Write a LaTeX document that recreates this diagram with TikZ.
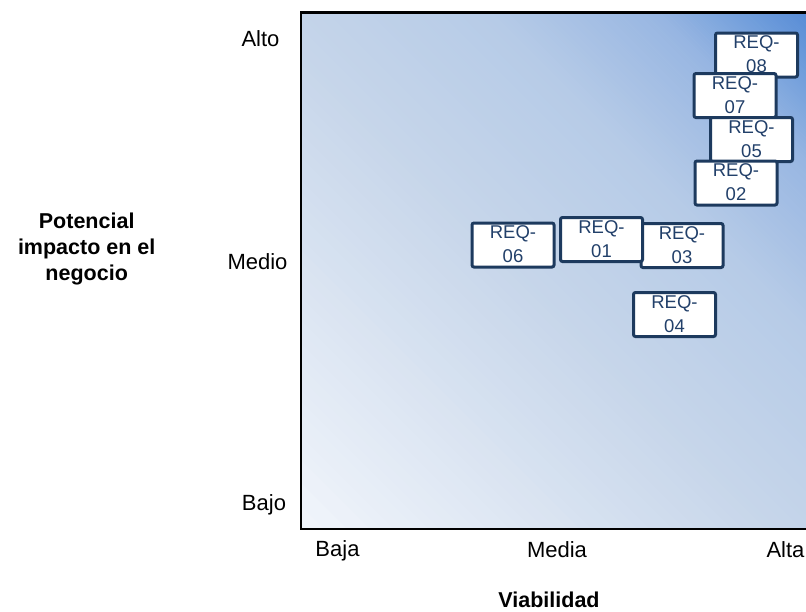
\documentclass[tikz,border=0pt]{standalone}
\usepackage{fontspec}
\setmainfont{Liberation Sans}
\usetikzlibrary{calc}

% diagonal background ramp, light at lower left, strong blue at upper right
\definecolor{g0}{HTML}{F1F5FB}
\definecolor{g1}{HTML}{C7D6EA}
\definecolor{g2}{HTML}{B6CBE7}
\definecolor{g3}{HTML}{98B6E2}
\definecolor{g4}{HTML}{6F9DDB}
\definecolor{g5}{HTML}{5288D5}
\definecolor{reqline}{HTML}{1D3A5E}
\definecolor{reqtext}{HTML}{22406A}

\tikzset{
  reqbox/.style={draw=reqline, fill=white, line width=3pt, rounded corners=2pt,
    minimum width=82pt, minimum height=44pt, inner sep=0pt},
  reqlabel/.style={anchor=north, inner sep=0pt, text=reqtext, align=center,
    font=\fontsize{18.5}{24}\selectfont},
  axislabel/.style={anchor=base, inner sep=0pt, font=\fontsize{22}{26}\selectfont},
  axistitle/.style={inner sep=0pt, align=center, font=\bfseries\fontsize{21.5}{26}\selectfont},
  frameline/.style={line width=2.8pt, draw=black},
}

\begin{document}
\begin{tikzpicture}[x=1pt, y=-1pt]
\useasboundingbox (0,0) rectangle (806,611);
\clip (0,0) rectangle (806,611);

% plot area background: bands along the lines x - y = s
\begin{scope}
  \clip (301,13) rectangle (830,529);
  \foreach \sa/\sb/\ca/\cb in {-228/238/g0/g1, 238/476/g1/g2, 476/642/g2/g3,
                               642/735/g3/g4, 735/808/g4/g5, 808/900/g5/g5} {
    \pgfmathsetmacro\stp{(\sb-\sa)/40}
    \foreach \k in {0,...,39} {
      \pgfmathsetmacro\lo{\sa+\stp*\k}
      \pgfmathsetmacro\hi{\sa+\stp*(\k+1)+0.8}
      \pgfmathtruncatemacro\pc{(\k+0.5)*2.5}
      \fill[\cb!\pc!\ca] (\lo-50,-50) -- (\lo+650,650) -- (\hi+650,650) -- (\hi-50,-50) -- cycle;
    }
  }
\end{scope}
\draw[frameline] (301,12.8) rectangle (830,529);

% requirement cards, later ones lie on top of earlier ones
\foreach \n/\cx/\cy in {08/756.5/55, 07/735/95.5, 05/751.5/139.5, 02/736/183,
                        06/513/245, 03/682/245.5, 01/601.5/239.5, 04/674.5/314.5} {
  \node[reqbox] (box\n) at (\cx,\cy) {};
  \node[reqlabel] (txt\n) at ($(box\n.north)+(0,4.3)$) {REQ-\\\n};
}

% axis levels
\node[axislabel] (alto)  at (260.5,46)  {Alto};
\node[axislabel] (medio) at (257.5,269.3) {Medio};
\node[axislabel] (bajo)  at (264,510.5) {Bajo};
\node[axislabel] (baja)  at (337.5,556.5) {Baja};
\node[axislabel] (media) at (557,557.3) {Media};
\node[axislabel] (alta)  at (785.5,557.3) {Alta};

% axis titles
\node[axistitle, anchor=north] (ytitle) at (86.7,212.9) {Potencial\\impacto en el\\negocio};
\node[axistitle, anchor=base] (xtitle) at (549,607.5) {Viabilidad};
\end{tikzpicture}
\end{document}
